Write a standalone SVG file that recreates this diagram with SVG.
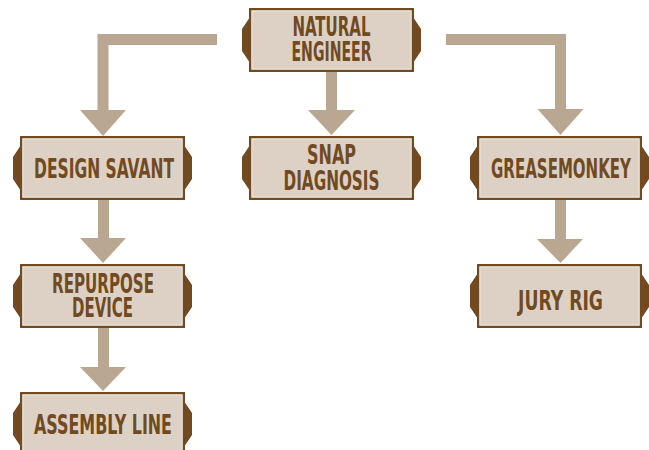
<svg xmlns="http://www.w3.org/2000/svg" xmlns:xlink="http://www.w3.org/1999/xlink" width="649" height="450" viewBox="0 0 649 450">
  <style>
    .tab { fill: #724a22; }
    .plate { fill: #ddd1c5; stroke: #724a22; stroke-width: 2.4; }
    .inset { fill: none; stroke: #f1e9e0; stroke-width: 1; }
    .label { font-family: "Liberation Sans Narrow", "DejaVu Sans Condensed", "Liberation Sans", sans-serif; font-weight: bold; font-size: 26px; fill: #724a22; text-anchor: middle; }
    .link { fill: #baa791; }
  </style>
  <defs>
    <!-- signboard plate with side tabs, 165 x 64 -->
    <g id="sign">
      <polygon class="tab" points="1,9 -7,21 -7,43 1,55"/>
      <polygon class="tab" points="164,9 172,21 172,43 164,55"/>
      <rect class="plate" x="1.2" y="1.2" width="162.6" height="61.6"/>
      <rect class="inset" x="2.9" y="2.9" width="159.2" height="58.2"/>
    </g>
  </defs>

  <rect width="649" height="450" fill="#ffffff"/>

  <!-- connectors -->
  <g id="connectors">
    <polygon class="link" points="217,34 97.5,34 97.5,110 80,110 103,136 126,110 108.5,110 108.5,45 217,45"/>
    <polygon class="link" points="326,71 337,71 337,110 355,110 331.5,135 308,110 326,110"/>
    <polygon class="link" points="446,34 566,34 566,109 583.5,109 560.5,135 537.5,109 555,109 555,45 446,45"/>
    <polygon class="link" points="98,200 109,200 109,238 126,238 103,263 80,238 98,238"/>
    <polygon class="link" points="98,328 109,328 109,367 126,367 103,391 80,367 98,367"/>
    <polygon class="link" points="555,200 566,200 566,239 583,239 560.5,263 537,239 555,239"/>
  </g>

  <!-- nodes -->
  <g id="natural-engineer" transform="translate(249,8)">
    <use xlink:href="#sign"/>
    <text class="label" x="82.5" y="28" textLength="78" lengthAdjust="spacingAndGlyphs">NATURAL</text>
    <text class="label" x="82.5" y="53" textLength="80" lengthAdjust="spacingAndGlyphs">ENGINEER</text>
  </g>
  <g id="design-savant" transform="translate(20,136)">
    <use xlink:href="#sign"/>
    <text class="label" x="84" y="42" textLength="140" lengthAdjust="spacingAndGlyphs">DESIGN SAVANT</text>
  </g>
  <g id="snap-diagnosis" transform="translate(249,136)">
    <use xlink:href="#sign"/>
    <text class="label" x="82.5" y="28" textLength="49" lengthAdjust="spacingAndGlyphs">SNAP</text>
    <text class="label" x="82.5" y="54" textLength="96" lengthAdjust="spacingAndGlyphs">DIAGNOSIS</text>
  </g>
  <g id="greasemonkey" transform="translate(477,136)">
    <use xlink:href="#sign"/>
    <text class="label" x="84" y="42" textLength="140" lengthAdjust="spacingAndGlyphs">GREASEMONKEY</text>
  </g>
  <g id="repurpose-device" transform="translate(20,264)">
    <use xlink:href="#sign"/>
    <text class="label" x="83" y="29" textLength="102" lengthAdjust="spacingAndGlyphs">REPURPOSE</text>
    <text class="label" x="82.5" y="53" textLength="61" lengthAdjust="spacingAndGlyphs">DEVICE</text>
  </g>
  <g id="jury-rig" transform="translate(477,264)">
    <use xlink:href="#sign"/>
    <text class="label" x="83.5" y="46" textLength="85" lengthAdjust="spacingAndGlyphs">JURY RIG</text>
  </g>
  <g id="assembly-line" transform="translate(20,392)">
    <use xlink:href="#sign"/>
    <text class="label" x="83" y="42" textLength="138" lengthAdjust="spacingAndGlyphs">ASSEMBLY LINE</text>
  </g>
</svg>
